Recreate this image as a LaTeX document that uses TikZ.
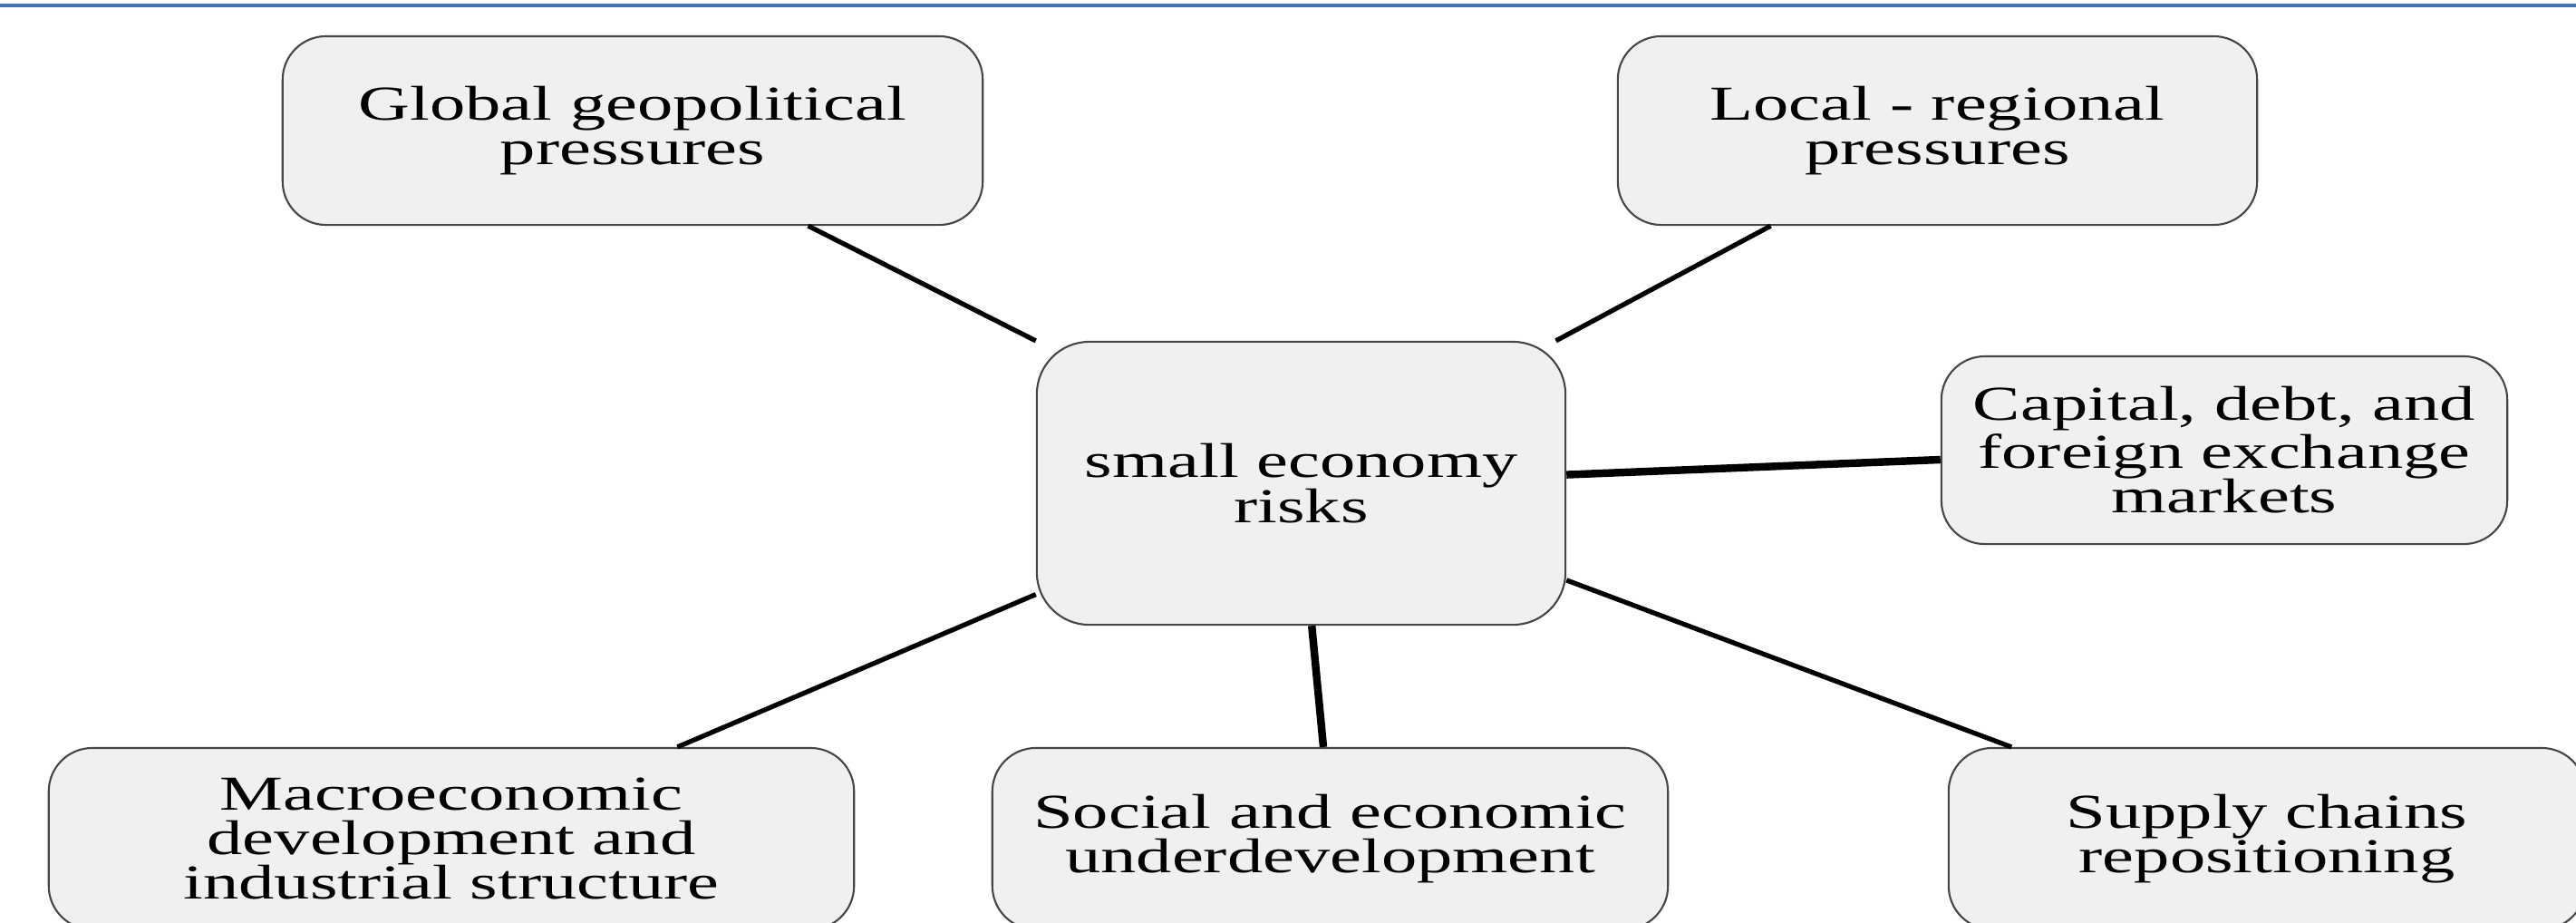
\documentclass[tikz,border=0pt]{standalone}
\usepackage{fontspec}
\setmainfont{Liberation Serif}[FakeStretch=1.46]
\usetikzlibrary{calc}

\definecolor{rulecol}{RGB}{65,113,185}
\definecolor{boxfill}{RGB}{240,240,240}
\definecolor{boxline}{RGB}{70,70,70}

\begin{document}
\begin{tikzpicture}[x=0.01cm, y=-0.01cm,
	riskbox/.style={draw=boxline, line width=0.6pt, fill=boxfill, rounded corners=0.48cm,
		align=center, inner sep=0pt, font=\fontsize{15.3pt}{14pt}\selectfont},
	link/.style={line width=1.5pt},
	boldlink/.style={line width=2.4pt}]

\def\width{2842}
\def\height{1017}

\useasboundingbox (0,0) rectangle (\width,\height);

% RULE
\draw [rulecol, line width=1.2pt] (0,6) -- (\width,6);

% BOXES
\node [riskbox, rounded corners=0.58cm, minimum width=5.83cm, minimum height=3.12cm] (ctr) at (1435.5,533) {small economy\\risks};
\node [riskbox, minimum width=7.72cm, minimum height=2.08cm] (glob) at (698,144) {Global geopolitical\\pressures};
\node [riskbox, minimum width=7.05cm, minimum height=2.08cm] (loc) at (2137.5,144) {Local - regional\\pressures};
\node [riskbox, minimum width=6.24cm, minimum height=2.07cm] (cap) at (2454,496.5) {Capital, debt, and\\foreign exchange\\markets};
\node [riskbox, minimum width=8.88cm, minimum height=2.00cm] (macro) at (498,925) {Macroeconomic\\development and\\industrial structure};
\node [riskbox, minimum width=7.45cm, minimum height=2.00cm] (social) at (1467.5,925) {Social and economic\\underdevelopment};
\node [riskbox, minimum width=7.02cm, minimum height=2.00cm] (supply) at (2501,925) {Supply chains\\repositioning};

% LINKS
\draw [link] ($(glob.south west)!0.75!(glob.south east)$) -- (ctr.north west);
\draw [link] ($(loc.south west)!0.24!(loc.south east)$) -- ($(ctr.north west)!0.98!(ctr.north east)$);
\draw [boldlink] ($(ctr.north east)!0.47!(ctr.south east)$) -- ($(cap.north west)!0.55!(cap.south west)$);
\draw [link] ($(ctr.north west)!0.89!(ctr.south west)$) -- ($(macro.north west)!0.78!(macro.north east)$);
\draw [boldlink] ($(ctr.south west)!0.52!(ctr.south east)$) -- ($(social.north west)!0.49!(social.north east)$);
\draw [link] ($(ctr.north east)!0.84!(ctr.south east)$) -- ($(supply.north west)!0.10!(supply.north east)$);

\end{tikzpicture}
\end{document}
